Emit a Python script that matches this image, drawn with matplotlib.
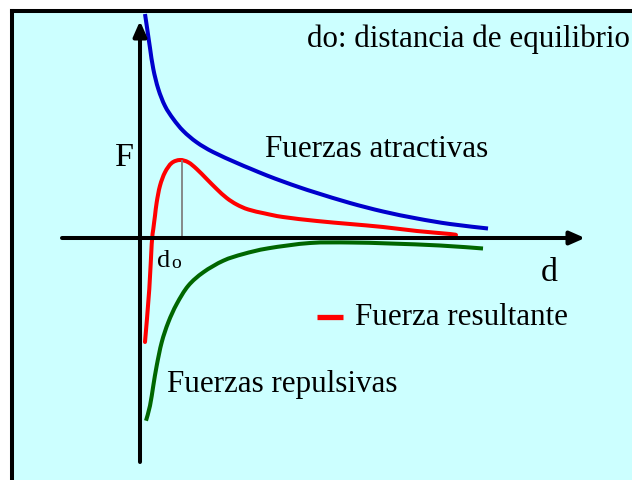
import matplotlib
matplotlib.use('Agg')
import matplotlib.pyplot as plt
from matplotlib.path import Path
from matplotlib.patches import PathPatch
import numpy as np

# curves, d = distance, F = force (arbitrary units)
d_atr = [0.05, 0.073, 0.10, 0.133, 0.183, 0.25, 0.333, 0.433, 0.567, 0.73,
         0.97, 1.10, 1.27, 1.43, 1.60, 1.77, 2.10, 2.43, 2.77, 3.10, 3.48]
F_atr = [2.24, 2.085, 1.90, 1.69, 1.49, 1.32, 1.19, 1.07, 0.957, 0.86,
         0.75, 0.695, 0.625, 0.565, 0.505, 0.45, 0.35, 0.265, 0.195, 0.14, 0.095]

d_res = [0.05, 0.093, 0.117, 0.133, 0.15, 0.167, 0.20, 0.25, 0.317, 0.40,
         0.483, 0.567, 0.667, 0.767, 0.867, 0.967, 1.083, 1.25, 1.43, 1.77,
         2.10, 2.43, 2.77, 3.10, 3.16]
F_res = [-1.04, -0.51, -0.06, 0.09, 0.223, 0.357, 0.523, 0.657, 0.75, 0.78,
         0.757, 0.69, 0.59, 0.49, 0.40, 0.335, 0.285, 0.245, 0.21, 0.17,
         0.14, 0.11, 0.07, 0.04, 0.03]

d_rep = [0.06, 0.10, 0.133, 0.167, 0.217, 0.283, 0.367, 0.483, 0.633, 0.833,
         1.033, 1.283, 1.70, 2.10, 2.50, 3.00, 3.43]
F_rep = [-1.827, -1.677, -1.477, -1.277, -1.043, -0.843, -0.66, -0.477, -0.343,
         -0.227, -0.16, -0.103, -0.05, -0.045, -0.055, -0.075, -0.105]

d0 = 0.42
F_peak = 0.78

BG = '#CCFFFF'
FONT = ['Liberation Serif', 'DejaVu Serif']
FS = 22.3


def at(px, py):
    # picture pixel -> data units (origin of the axes sits at pixel 140, 239)
    return (px - 140) / 100.0, (239 - py) / 100.0


def smooth_path(xs, ys):
    # bezier path running through every point (catmull-rom tangents)
    p = np.column_stack([xs, ys])
    ext = np.vstack([p[0], p, p[-1]])
    verts = [p[0]]
    codes = [Path.MOVETO]
    for i in range(len(p) - 1):
        a, b, c, d = ext[i], ext[i + 1], ext[i + 2], ext[i + 3]
        verts += [b + (c - a) / 6.0, c - (d - b) / 6.0, c]
        codes += [Path.CURVE4] * 3
    return Path(verts, codes)


def draw_curve(ax, xs, ys, color, capstyle='butt'):
    patch = PathPatch(smooth_path(xs, ys), fill=False, edgecolor=color,
                      lw=2.9, capstyle=capstyle, joinstyle='round')
    ax.add_patch(patch)


fig = plt.figure(figsize=(6.32, 4.81), dpi=100)
fig.patch.set_facecolor('white')
ax = fig.add_axes([12 / 632, 0, 620 / 632, 469 / 481])
ax.set_facecolor(BG)
x0, y1 = at(12, 12)
x1, y0 = at(632, 481)
ax.set_xlim(x0, x1)
ax.set_ylim(y0, y1)
ax.set_xticks([])
ax.set_yticks([])
for side in ['right', 'bottom']:
    ax.spines[side].set_visible(False)
for side in ['left', 'top']:
    ax.spines[side].set_linewidth(2.9)
    ax.spines[side].set_color('black')

# axes with arrows
arrow = dict(arrowstyle='-|>,head_length=0.5,head_width=0.22', lw=2.9,
             color='black', mutation_scale=18, shrinkA=0, shrinkB=0)
ax.annotate('', xy=at(585, 239), xytext=at(62, 239), arrowprops=arrow)
ax.annotate('', xy=at(140, 22), xytext=at(140, 463), arrowprops=arrow)

draw_curve(ax, d_atr, F_atr, '#0000CC')
draw_curve(ax, d_rep, F_rep, '#006600')
draw_curve(ax, d_res, F_res, '#FF0000', capstyle='round')
ax.vlines(d0, 0, F_peak, color='#808080', lw=1.3)

ax.text(*at(307, 47), 'do: distancia de equilibrio', fontsize=FS,
        family=FONT, va='baseline', ha='left')
ax.text(*at(115, 166), 'F', fontsize=24.5, family=FONT, va='baseline', ha='left')
ax.text(*at(265, 157), 'Fuerzas atractivas', fontsize=FS, family=FONT,
        va='baseline', ha='left')
ax.text(*at(541, 281), 'd', fontsize=24.5, family=FONT, va='baseline', ha='left')
ax.text(*at(157, 267), 'd', fontsize=19, family=FONT, va='baseline', ha='left')
ax.text(*at(171, 268), 'o', fontsize=14, family=FONT, va='baseline', ha='left')
ax.text(*at(355, 325), 'Fuerza resultante', fontsize=FS, family=FONT,
        va='baseline', ha='left')
ax.text(*at(167, 392), 'Fuerzas repulsivas', fontsize=FS, family=FONT,
        va='baseline', ha='left')

lx0, ly = at(317, 318)
lx1, _ = at(343, 318)
ax.plot([lx0, lx1], [ly, ly], color='#FF0000', lw=3.8, solid_capstyle='butt')

fig.savefig('out.png', dpi=100)
